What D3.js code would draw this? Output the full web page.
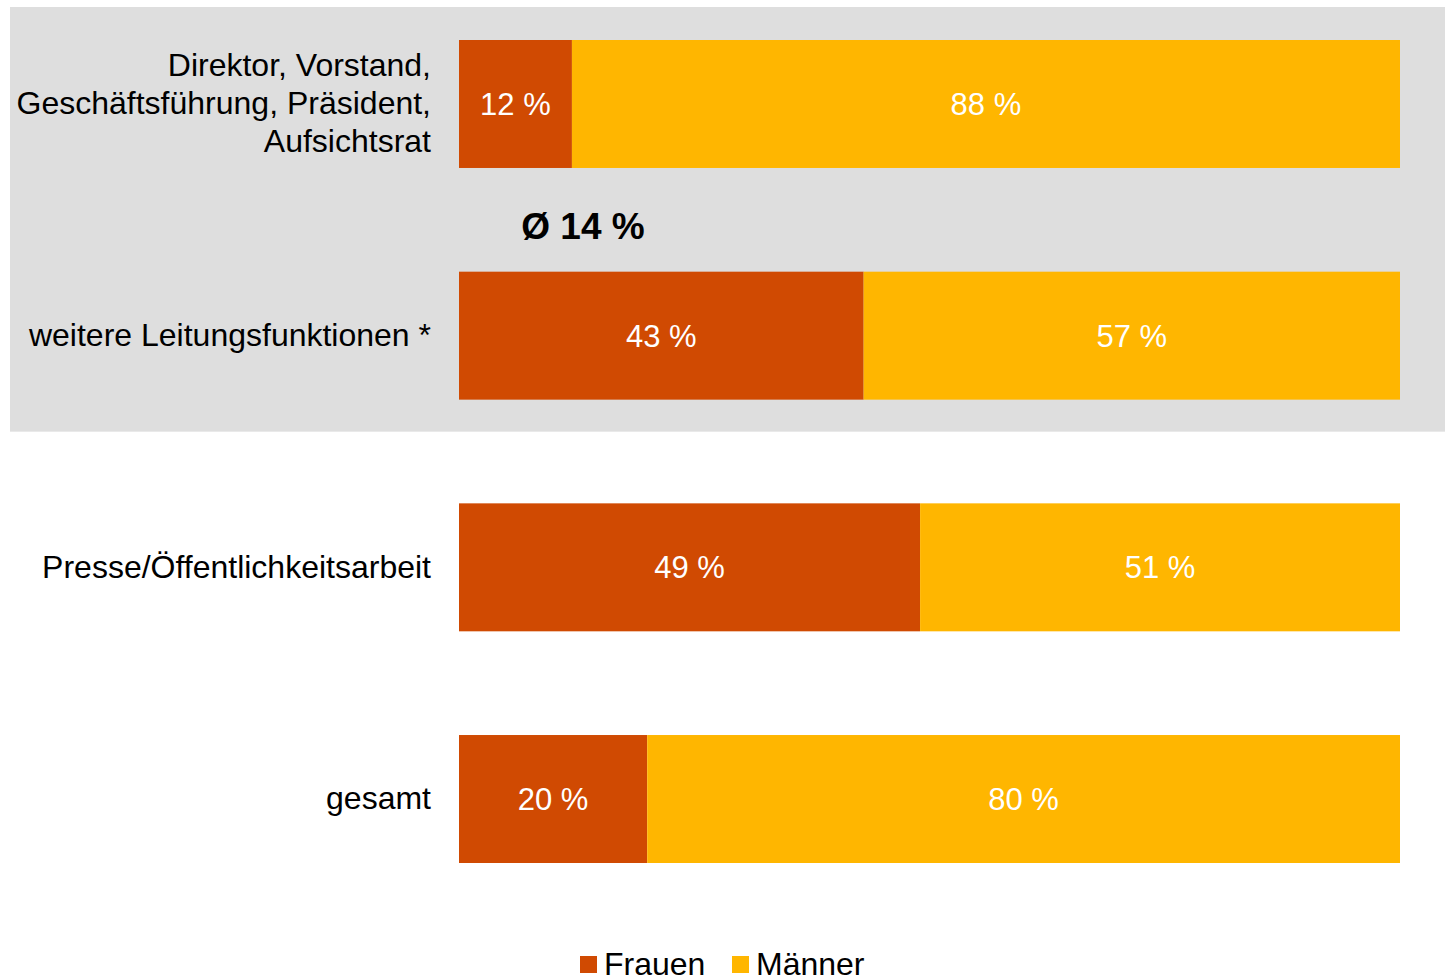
<!DOCTYPE html>
<html>
<head>
<meta charset="utf-8">
<title>Frauen und Männer in Leitungsfunktionen</title>
<style>
  body { margin: 0; background: #fff; }
  text { font-family: "Liberation Sans", Arial, sans-serif; }
</style>
</head>
<body>
<script src="https://d3js.org/d3.v7.min.js"></script>
<div id="chart"></div>
<script>
// data
var categories = [
  ["Direktor, Vorstand,", "Geschäftsführung, Präsident,", "Aufsichtsrat"],
  ["weitere Leitungsfunktionen *"],
  ["Presse/Öffentlichkeitsarbeit"],
  ["gesamt"]
];
var frauen = [12, 43, 49, 20];
var maenner = [88, 57, 51, 80];
var seriesNames = ["Frauen", "Männer"];
var seriesColors = ["#D04A02", "#FFB600"];
var averageLabel = "Ø 14 %";

var width = 1445, height = 977;

var svg = d3.select("#chart").append("svg")
  .attr("width", width)
  .attr("height", height);

var x = d3.scaleLinear().domain([0, 100]).range([459, 1400]);
var y = d3.scaleBand()
  .domain(d3.range(categories.length))
  .range([40, 863])
  .paddingInner(0.4476)
  .paddingOuter(0);

// grey box behind the first two groups (leadership)
svg.append("rect")
  .attr("x", 10)
  .attr("y", y(0) - 33)
  .attr("width", width - 10)
  .attr("height", y(1) + y.bandwidth() + 32 - (y(0) - 33))
  .attr("fill", "#DEDEDE");

var rows = categories.map(function(c, i) {
  return { i: i, label: c, f: frauen[i], m: maenner[i] };
});

// Frauen bars
svg.selectAll(".bar-f")
  .data(rows)
  .enter().append("rect")
    .attr("x", x(0))
    .attr("y", function(d) { return y(d.i); })
    .attr("width", function(d) { return x(d.f) - x(0); })
    .attr("height", y.bandwidth())
    .attr("fill", seriesColors[0]);

// Männer bars
svg.selectAll(".bar-m")
  .data(rows)
  .enter().append("rect")
    .attr("x", function(d) { return x(d.f); })
    .attr("y", function(d) { return y(d.i); })
    .attr("width", function(d) { return x(d.f + d.m) - x(d.f); })
    .attr("height", y.bandwidth())
    .attr("fill", seriesColors[1]);

// value labels
rows.forEach(function(d) {
  var cy = y(d.i) + y.bandwidth() / 2;
  svg.append("text")
    .attr("x", (x(0) + x(d.f)) / 2)
    .attr("y", cy)
    .attr("dy", "0.36em")
    .attr("text-anchor", "middle")
    .attr("fill", "#fff")
    .style("font-size", "31px")
    .text(d.f + " %");
  svg.append("text")
    .attr("x", (x(d.f) + x(d.f + d.m)) / 2)
    .attr("y", cy)
    .attr("dy", "0.36em")
    .attr("text-anchor", "middle")
    .attr("fill", "#fff")
    .style("font-size", "31px")
    .text(d.m + " %");
});

// category labels
var lineH = 38;
rows.forEach(function(d) {
  var cy = y(d.i) + y.bandwidth() / 2;
  var n = d.label.length;
  var t = svg.append("text")
    .attr("x", 431)
    .attr("text-anchor", "end")
    .attr("fill", "#000")
    .style("font-size", "32px");
  d.label.forEach(function(line, k) {
    t.append("tspan")
      .attr("x", 431)
      .attr("y", cy - 1 + (k - (n - 1) / 2) * lineH)
      .attr("dy", "0.35em")
      .text(line);
  });
});

// average label
svg.append("text")
  .attr("x", 583)
  .attr("y", (y(0) + y.bandwidth() + y(1)) / 2 + 6)
  .attr("dy", "0.36em")
  .attr("text-anchor", "middle")
  .attr("fill", "#000")
  .style("font-size", "37px")
  .style("font-weight", "bold")
  .text(averageLabel);

// legend
var legendX = [580, 732];
seriesNames.forEach(function(name, i) {
  svg.append("rect")
    .attr("x", legendX[i])
    .attr("y", 956)
    .attr("width", 17)
    .attr("height", 17)
    .attr("fill", seriesColors[i]);
  svg.append("text")
    .attr("x", legendX[i] + 24)
    .attr("y", 975)
    .attr("fill", "#000")
    .style("font-size", "32px")
    .text(name);
});
</script>
</body>
</html>
